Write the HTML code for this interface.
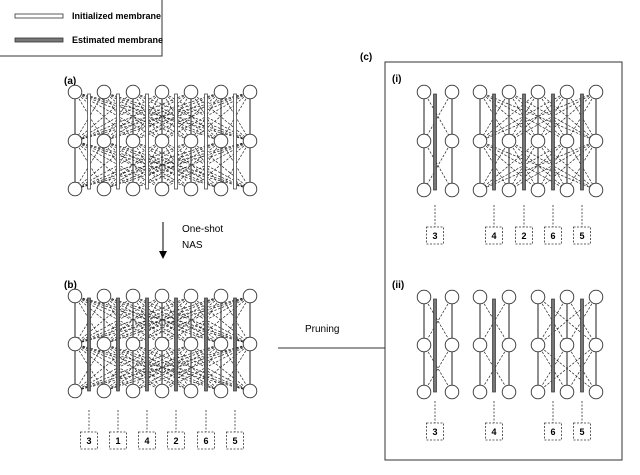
<!DOCTYPE html>
<html><head><meta charset="utf-8"><style>
html,body{margin:0;padding:0;background:#fff;width:640px;height:475px;overflow:hidden}
svg text{font-family:"Liberation Sans",Arial,sans-serif;font-weight:bold;fill:#000}
svg text.n{font-weight:normal}
</style></head><body>
<svg id="s" width="640" height="475" xmlns="http://www.w3.org/2000/svg">
<rect x="-2" y="-2" width="164" height="58" fill="#fff" stroke="#333" stroke-width="1"/>
<rect x="15" y="14" width="48" height="4" fill="#fff" stroke="#333" stroke-width="0.8"/>
<text x="72" y="19" font-size="9">Initialized membrane</text>
<rect x="15" y="38" width="48" height="4" fill="#777" stroke="#333" stroke-width="0.8"/>
<text x="72" y="43" font-size="9">Estimated membrane</text>
<text x="64" y="84" font-size="10">(a)</text>
<text x="64" y="288" font-size="10">(b)</text>
<text x="360" y="60" font-size="10">(c)</text>
<text x="392" y="82" font-size="10">(i)</text>
<text x="392" y="288" font-size="10">(ii)</text>
<line x1="163" y1="222" x2="163" y2="252" stroke="#000" stroke-width="1"/>
<polygon points="159,251 167,251 163,259" fill="#000"/>
<text class="n" x="182" y="232" font-size="10">One-shot</text>
<text class="n" x="182" y="248" font-size="10">NAS</text>
<text class="n" x="305" y="332" font-size="10">Pruning</text>
<line x1="278" y1="348" x2="385" y2="348" stroke="#333" stroke-width="1"/>
<rect x="385" y="62" width="237" height="398" fill="none" stroke="#333" stroke-width="1"/>
<g id="g"></g>
</svg>
<script>
var g=document.getElementById('g'),out='';
function grp(cols,rows,fill,mems,labels,by){
 for(var r=0;r<rows.length-1;r++)for(var i=0;i<cols.length;i++)for(var j=0;j<cols.length;j++)if(i!=j)
  out+='<line x1="'+cols[i]+'" y1="'+rows[r]+'" x2="'+cols[j]+'" y2="'+rows[r+1]+'" stroke="#222" stroke-width="0.7" stroke-dasharray="2.5,1.5"/>';
 for(var i=0;i<cols.length;i++)out+='<line x1="'+cols[i]+'" y1="'+rows[0]+'" x2="'+cols[i]+'" y2="'+rows[rows.length-1]+'" stroke="#444" stroke-width="1.2"/>';
 for(var k=0;k<mems.length;k++){
  out+='<rect x="'+(mems[k]-1.5)+'" y="'+(rows[0]+2)+'" width="3" height="'+(rows[2]-rows[0]-2)+'" fill="'+fill+'" stroke="#333" stroke-width="0.7"/>';
  if(labels){out+='<line x1="'+mems[k]+'" y1="'+(by-22)+'" x2="'+mems[k]+'" y2="'+by+'" stroke="#333" stroke-width="0.8" stroke-dasharray="2,1.5"/>'+
   '<rect x="'+(mems[k]-8.5)+'" y="'+by+'" width="17" height="17" fill="#fff" stroke="#333" stroke-width="0.8" stroke-dasharray="2,1.5"/>'+
   '<text x="'+mems[k]+'" y="'+(by+12)+'" font-size="9" text-anchor="middle">'+labels[k]+'</text>';}
 }
 for(var r=0;r<rows.length;r++)for(var i=0;i<cols.length;i++)out+='<circle cx="'+cols[i]+'" cy="'+rows[r]+'" r="6.8" fill="#fff" stroke="#333" stroke-width="0.9"/>';
}
var C=[75,104,133,162,191,221,250],M=[89,118,147,176,206,235];
grp(C,[92,141,189],'#fff',M,null,0);
grp(C,[296,344,391],'#777',M,['3','1','4','2','6','5'],432);
grp([424,452],[92,141,190],'#777',[435],['3'],227);
grp([480,509,538,567,596],[92,141,190],'#777',[494,524,553,582],['4','2','6','5'],227);
grp([424,452],[297,345,392],'#777',[435],['3'],423);
grp([480,509],[297,345,392],'#777',[494],['4'],423);
grp([538,567,596],[297,345,392],'#777',[553,582],['6','5'],423);
g.innerHTML=out;
</script>
</body></html>
